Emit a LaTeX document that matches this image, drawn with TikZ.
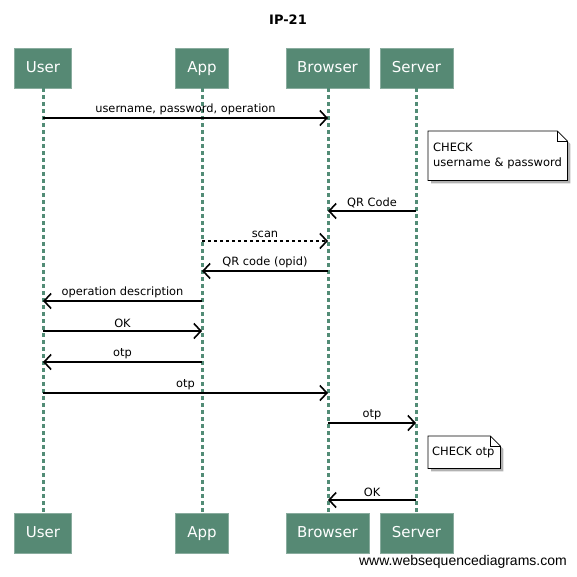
\documentclass[tikz,border=0pt]{standalone}
\usepackage{fontspec}
\setmainfont{DejaVu Sans}
\newfontfamily\footfont{Liberation Sans}
\usetikzlibrary{arrows.meta}
\definecolor{actorgreen}{RGB}{86,137,116}
\definecolor{lifegreen}{RGB}{82,140,118}

\begin{document}
\begin{tikzpicture}[x=1pt,y=-1pt]
  \tikzstyle{actor}=[fill=actorgreen,draw=actorgreen!70!white,line width=0.8pt,minimum height=40pt,inner xsep=9pt,text=white,text height=11pt,text depth=3pt,font=\fontsize{15}{17}\selectfont]
  \tikzstyle{life}=[draw=lifegreen,line width=3pt,dash pattern=on 4pt off 3pt]
  \tikzstyle{msg}=[line width=1.6pt,-{Straight Barb[length=7pt,width=15pt,line width=1.6pt]}]
  \tikzstyle{lbl}=[font=\fontsize{11.4}{13}\selectfont,inner sep=1pt,yshift=1.5pt]
  \tikzstyle{note}=[align=left,anchor=north west,font=\fontsize{11.5}{15.5}\selectfont,inner xsep=5pt,inner ysep=0pt]
  \useasboundingbox (0,0) rectangle (577,576);

  % Title
  \node[font=\bfseries\fontsize{13}{15}\selectfont] (title) at (288,20) {IP-21};

  % Actors, top and bottom
  \node[actor,minimum width=57pt] (user) at (43,68) {User};
  \node[actor,minimum width=53pt] (app) at (202,68) {App};
  \node[actor,minimum width=83pt] (browser) at (327.5,68) {Browser};
  \node[actor,minimum width=73pt] (server) at (416.5,68) {Server};
  \node[actor,minimum width=57pt] (userB) at (43,533) {User};
  \node[actor,minimum width=53pt] (appB) at (202,533) {App};
  \node[actor,minimum width=83pt] (browserB) at (327.5,533) {Browser};
  \node[actor,minimum width=73pt] (serverB) at (416.5,533) {Server};

  % Lifelines
  \draw[life] (user.south) -- (userB.north);
  \draw[life] (app.south) -- (appB.north);
  \draw[life] ([xshift=0.5pt]browser.south) -- ([xshift=0.5pt]browserB.north);
  \draw[life] ([xshift=-0.5pt]server.south) -- ([xshift=-0.5pt]serverB.north);

  % Message points
  \foreach \n/\y in {1/118,3/211,4/241,5/271,6/301,7/331,8/362,9/393,10/423,12/500}{
    \coordinate (u\n) at (43,\y);
    \coordinate (a\n) at (202,\y);
    \coordinate (b\n) at (328,\y);
    \coordinate (s\n) at (416,\y);
  }

  % Messages
  \draw[msg] (u1) -- node[lbl,above] {username, password, operation} (b1);
  \draw[msg] (s3) -- node[lbl,above] {QR Code} (b3);
  \draw[msg,dashed] (a4) -- node[lbl,above] {scan} (b4);
  \draw[msg] (b5) -- node[lbl,above] {QR code (opid)} (a5);
  \draw[msg] (a6) -- node[lbl,above] {operation description} (u6);
  \draw[msg] (u7) -- node[lbl,above] {OK} (a7);
  \draw[msg] (a8) -- node[lbl,above] {otp} (u8);
  \draw[msg] (u9) -- node[lbl,above] {otp} (b9);
  \draw[msg] (b10) -- node[lbl,above] {otp} (s10);
  \draw[msg] (s12) -- node[lbl,above] {OK} (b12);

  % Notes
  \node[note,text width=129pt,minimum height=49pt] (check1) at (428,131) {};
  \node[note,text width=64pt,inner xsep=4pt,minimum height=32pt] (check2) at (428,436) {};
  \foreach \nn in {check1,check2}{
    \fill[black!30] ([shift={(3pt,-3pt)}]\nn.north west) -- ([shift={(-7pt,-3pt)}]\nn.north east) -- ([shift={(3pt,-13pt)}]\nn.north east) -- ([shift={(3pt,-3pt)}]\nn.south east) -- ([shift={(3pt,-3pt)}]\nn.south west) -- cycle;
    \draw[fill=white,line width=0.7pt] (\nn.north west) -- ([xshift=-10pt]\nn.north east) -- ([yshift=-10pt]\nn.north east) -- (\nn.south east) -- (\nn.south west) -- cycle;
    \draw[line width=0.7pt] ([xshift=-10pt]\nn.north east) -- ([xshift=-10pt,yshift=-10pt]\nn.north east) -- ([yshift=-10pt]\nn.north east);
  }
  \node[note,text width=129pt,minimum height=49pt] at (check1.north west) {CHECK\\username \& password};
  \node[note,text width=64pt,inner xsep=4pt,minimum height=32pt] at (check2.north west) {CHECK otp};

  % Footer
  \node[anchor=east,font=\footfont\fontsize{14}{16}\selectfont,inner sep=0pt] (footer) at (567,562) {www.websequencediagrams.com};
\end{tikzpicture}
\end{document}
